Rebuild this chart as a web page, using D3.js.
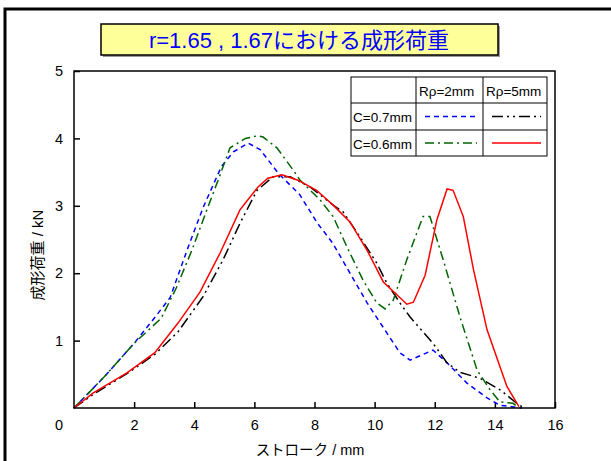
<!DOCTYPE html>
<html>
<head>
<meta charset="utf-8">
<script src="https://cdn.jsdelivr.net/npm/d3@7"></script>
<style>
  body { margin: 0; background: #fff; }
  svg { display: block; font-family: "Liberation Sans", Arial, "Noto Sans CJK JP", sans-serif; }
</style>
</head>
<body>
<div id="chart"></div>
<script>
// stroke (mm) vs forming load (kN)
const blueX  = [0, 1.0, 2.0, 2.7, 3.2, 3.8, 4.3, 4.9, 5.3, 5.8, 6.2, 6.8, 7.5, 8.1, 8.6, 9.75, 10.84, 11.18, 11.94, 12.41, 13.07, 13.74, 14.17, 14.9];
const blueY  = [0, 0.46, 0.96, 1.35, 1.64, 2.39, 2.98, 3.58, 3.80, 3.93, 3.83, 3.48, 3.17, 2.74, 2.45, 1.56, 0.82, 0.71, 0.86, 0.67, 0.37, 0.15, 0.04, 0.0];
const greenX = [0, 1.0, 2.0, 2.9, 3.4, 3.93, 4.42, 4.76, 5.19, 5.7, 6.12, 6.29, 6.75, 7.29, 7.52, 8.18, 8.62, 9.08, 9.61, 10.07, 10.35, 10.62, 11.07, 11.61, 11.84, 12.28, 12.84, 13.41, 13.84, 14.17, 14.6, 14.75];
const greenY = [0, 0.46, 0.96, 1.33, 1.78, 2.35, 2.94, 3.34, 3.86, 4.0, 4.04, 4.02, 3.86, 3.53, 3.38, 3.09, 2.84, 2.39, 1.90, 1.56, 1.47, 1.60, 2.2, 2.84, 2.84, 2.2, 1.35, 0.56, 0.27, 0.09, 0.07, 0.02];
const blackX = [0, 0.7, 1.8, 2.7, 3.46, 4.29, 4.96, 5.52, 6.09, 6.62, 7.19, 7.85, 8.62, 8.95, 9.51, 10.07, 10.41, 10.84, 11.18, 11.94, 12.41, 12.84, 13.51, 14.17, 14.73, 14.9];
const blackY = [0, 0.22, 0.52, 0.80, 1.13, 1.65, 2.20, 2.74, 3.23, 3.43, 3.43, 3.28, 3.01, 2.91, 2.54, 2.15, 1.85, 1.56, 1.35, 0.96, 0.67, 0.53, 0.44, 0.27, 0.07, 0.02];
const redX   = [0, 0.63, 1.76, 2.69, 3.46, 4.19, 4.86, 5.52, 6.12, 6.45, 6.92, 7.45, 8.07, 8.62, 9.18, 9.75, 10.29, 10.74, 11.07, 11.29, 11.68, 12.07, 12.41, 12.61, 12.95, 13.29, 13.74, 14.4, 14.8];
const redY   = [0, 0.22, 0.52, 0.82, 1.26, 1.72, 2.30, 2.94, 3.28, 3.41, 3.46, 3.38, 3.23, 3.01, 2.76, 2.34, 1.87, 1.68, 1.54, 1.57, 1.97, 2.79, 3.25, 3.23, 2.84, 2.05, 1.16, 0.32, 0.02];

const xTicks = [2, 4, 6, 8, 10, 12, 14, 16];
const yTicks = [1, 2, 3, 4, 5];
const rowLabels = ["C=0.7mm", "C=0.6mm"];
const colLabels = ["Rρ=2mm", "Rρ=5mm"];

const W = 611, H = 461;
const margin = { top: 71, right: 56, bottom: 53, left: 74 };
const width = W - margin.left - margin.right;
const height = H - margin.top - margin.bottom;

const series = [
  { xs: blueX,  ys: blueY,  color: "#0000ff", dash: "5,4",             row: 0, col: 0 },
  { xs: blackX, ys: blackY, color: "#000000", dash: "11,4,2,4,2,4",    row: 0, col: 1 },
  { xs: greenX, ys: greenY, color: "#006400", dash: "9,4,2,4",         row: 1, col: 0 },
  { xs: redX,   ys: redY,   color: "#ff0000", dash: null,              row: 1, col: 1 }
];

const svg = d3.select("#chart").append("svg")
  .attr("width", W).attr("height", H);

// outer frame (runs past the window on right/bottom)
svg.append("rect")
  .attr("x", 5).attr("y", 9).attr("width", 640).attr("height", 480)
  .attr("fill", "none").attr("stroke", "#000").attr("stroke-width", 3);

// title box
svg.append("rect")
  .attr("x", 103).attr("y", 26).attr("width", 397).attr("height", 31)
  .attr("fill", "#999");
svg.append("rect")
  .attr("x", 101).attr("y", 24).attr("width", 397).attr("height", 31)
  .attr("fill", "#ffff99").attr("stroke", "#000").attr("stroke-width", 1.5);
svg.append("text")
  .attr("x", 299).attr("y", 48)
  .attr("text-anchor", "middle")
  .attr("font-size", "22px").attr("fill", "#0000ff")
  .text("r=1.65 , 1.67における成形荷重");

const g = svg.append("g").attr("transform", `translate(${margin.left},${margin.top})`);

const x = d3.scaleLinear().domain([0, 16]).range([0, width]);
const y = d3.scaleLinear().domain([0, 5]).range([height, 0]);

// axes with inward ticks
const xAxis = g.append("g")
  .attr("transform", `translate(0,${height})`)
  .call(d3.axisBottom(x).tickValues(xTicks).tickFormat(d3.format("d"))
    .tickSizeInner(-6).tickSizeOuter(0).tickPadding(12));
const yAxis = g.append("g")
  .call(d3.axisLeft(y).tickValues(yTicks).tickFormat(d3.format("d"))
    .tickSizeInner(-6).tickSizeOuter(0).tickPadding(11));
[xAxis, yAxis].forEach(a => {
  a.select(".domain").remove();
  a.selectAll(".tick line").attr("stroke", "#000").attr("stroke-width", 1.5);
  a.selectAll(".tick text").attr("font-size", "14.5px").attr("fill", "#000")
    .attr("font-family", "Liberation Sans, Arial, sans-serif");
});

// shared origin label
g.append("text")
  .attr("x", x(0) - 15).attr("y", y(0) + 22)
  .attr("text-anchor", "middle").attr("font-size", "14.5px")
  .text("0");

// series
const line = d3.line().x(d => x(d[0])).y(d => y(d[1]));
series.forEach(s => {
  const pts = s.xs.map((v, i) => [v, s.ys[i]]);
  g.append("path")
    .datum(pts)
    .attr("d", line)
    .attr("fill", "none")
    .attr("stroke", s.color)
    .attr("stroke-width", 1.5)
    .attr("stroke-dasharray", s.dash);
});

// plot frame
g.append("rect")
  .attr("width", width).attr("height", height)
  .attr("fill", "none").attr("stroke", "#000").attr("stroke-width", 1.5);

// legend table
const lg = { x: 351 - margin.left, y: 77 - margin.top, colW: [65, 67, 64], rowH: [26, 27, 26] };
const colX = [0, lg.colW[0], lg.colW[0] + lg.colW[1], lg.colW[0] + lg.colW[1] + lg.colW[2]];
const rowY = [0, lg.rowH[0], lg.rowH[0] + lg.rowH[1], lg.rowH[0] + lg.rowH[1] + lg.rowH[2]];
const leg = g.append("g").attr("transform", `translate(${lg.x},${lg.y})`);
leg.append("rect")
  .attr("width", colX[3]).attr("height", rowY[3])
  .attr("fill", "#fff").attr("stroke", "#000").attr("stroke-width", 1);
[1, 2].forEach(i => {
  leg.append("line").attr("x1", colX[i]).attr("x2", colX[i]).attr("y1", 0).attr("y2", rowY[3])
    .attr("stroke", "#000");
  leg.append("line").attr("x1", 0).attr("x2", colX[3]).attr("y1", rowY[i]).attr("y2", rowY[i])
    .attr("stroke", "#000");
});
colLabels.forEach((t, i) => {
  leg.append("text")
    .attr("x", colX[i + 1] + 3).attr("y", rowY[1] - 7)
    .attr("font-size", "13.5px")
    .text(t);
});
rowLabels.forEach((t, i) => {
  leg.append("text")
    .attr("x", 2).attr("y", rowY[i + 1] + 19)
    .attr("font-size", "13.5px")
    .text(t);
});
series.forEach(s => {
  const cx = colX[s.col + 1], cy = (rowY[s.row + 1] + rowY[s.row + 2]) / 2;
  leg.append("line")
    .attr("x1", cx + 9).attr("x2", cx + colX[s.col + 2] - colX[s.col + 1] - 6)
    .attr("y1", cy).attr("y2", cy)
    .attr("stroke", s.color).attr("stroke-width", 1.5)
    .attr("stroke-dasharray", s.dash);
});

// axis titles
svg.append("text")
  .attr("x", 310).attr("y", 455)
  .attr("text-anchor", "middle").attr("font-size", "14.5px")
  .text("ストローク / mm");
svg.append("text")
  .attr("transform", "translate(43,255) rotate(-90)")
  .attr("text-anchor", "middle").attr("font-size", "15px")
  .text("成形荷重 / kN");
</script>
</body>
</html>
